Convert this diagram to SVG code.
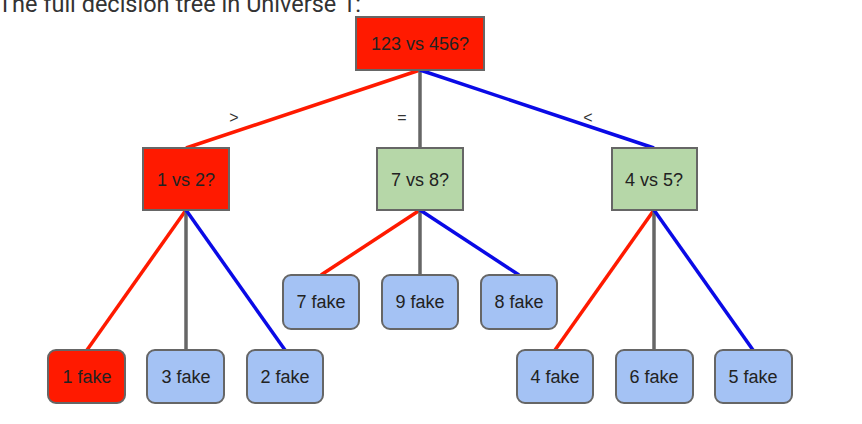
<svg xmlns="http://www.w3.org/2000/svg" width="862" height="424" viewBox="0 0 862 424">
<style>
.title{font-family:Roboto,"Liberation Sans",sans-serif;font-size:23.5px;fill:#333}
.lbl{font-family:"Liberation Sans",Arial,sans-serif;font-size:18px;fill:#222;text-anchor:middle}
.edge{font-family:"Liberation Sans",Arial,sans-serif;font-size:16px;fill:#333;text-anchor:middle}
.box{stroke:#666;stroke-width:2}
.red{fill:#ff1a00}
.green{fill:#b6d7a8}
.blue{fill:#a4c2f4}
.r{stroke:#ff1a00;stroke-width:3.5}
.g{stroke:#666;stroke-width:3.5}
.b{stroke:#0a0ae6;stroke-width:3.5}
</style>
<rect width="862" height="424" fill="#fff"/>
<text class="title" x="-2" y="12">The full decision tree in Universe 1:</text>
<g id="connectors">
<line class="r" x1="420" y1="70" x2="186" y2="148"/>
<line class="g" x1="420" y1="70" x2="420" y2="148"/>
<line class="b" x1="420" y1="70" x2="654" y2="148"/>
<line class="r" x1="186" y1="210" x2="87" y2="350"/>
<line class="g" x1="186" y1="210" x2="186" y2="350"/>
<line class="b" x1="186" y1="210" x2="285" y2="350"/>
<line class="r" x1="420" y1="210" x2="321" y2="275"/>
<line class="g" x1="420" y1="210" x2="420" y2="275"/>
<line class="b" x1="420" y1="210" x2="519" y2="275"/>
<line class="r" x1="654" y1="210" x2="555" y2="350"/>
<line class="g" x1="654" y1="210" x2="654" y2="350"/>
<line class="b" x1="654" y1="210" x2="753" y2="350"/>
<text class="edge" x="234" y="123">&gt;</text>
<text class="edge" x="402" y="123">=</text>
<text class="edge" x="588" y="123">&lt;</text>
</g>
<g id="root"><rect class="box red" x="356" y="17" width="128" height="53"/><text class="lbl" x="420" y="50">123 vs 456?</text></g>
<g id="n12"><rect class="box red" x="143" y="148" width="86" height="62"/><text class="lbl" x="186" y="186">1 vs 2?</text></g>
<g id="n78"><rect class="box green" x="377" y="148" width="86" height="62"/><text class="lbl" x="420" y="186">7 vs 8?</text></g>
<g id="n45"><rect class="box green" x="612" y="148" width="85" height="62"/><text class="lbl" x="654" y="186">4 vs 5?</text></g>
<g id="f1"><rect class="box red" x="48" y="350" width="77" height="53" rx="8"/><text class="lbl" x="87" y="383">1 fake</text></g>
<g id="f3"><rect class="box blue" x="147" y="350" width="77" height="53" rx="8"/><text class="lbl" x="186" y="383">3 fake</text></g>
<g id="f2"><rect class="box blue" x="247" y="350" width="76" height="53" rx="8"/><text class="lbl" x="285" y="383">2 fake</text></g>
<g id="f7"><rect class="box blue" x="283" y="275" width="76" height="54" rx="8"/><text class="lbl" x="321" y="308">7 fake</text></g>
<g id="f9"><rect class="box blue" x="382" y="275" width="76" height="54" rx="8"/><text class="lbl" x="420" y="308">9 fake</text></g>
<g id="f8"><rect class="box blue" x="481" y="275" width="76" height="54" rx="8"/><text class="lbl" x="519" y="308">8 fake</text></g>
<g id="f4"><rect class="box blue" x="517" y="350" width="76" height="53" rx="8"/><text class="lbl" x="555" y="383">4 fake</text></g>
<g id="f6"><rect class="box blue" x="616" y="350" width="77" height="53" rx="8"/><text class="lbl" x="654" y="383">6 fake</text></g>
<g id="f5"><rect class="box blue" x="715" y="350" width="77" height="53" rx="8"/><text class="lbl" x="753" y="383">5 fake</text></g>
</svg>
